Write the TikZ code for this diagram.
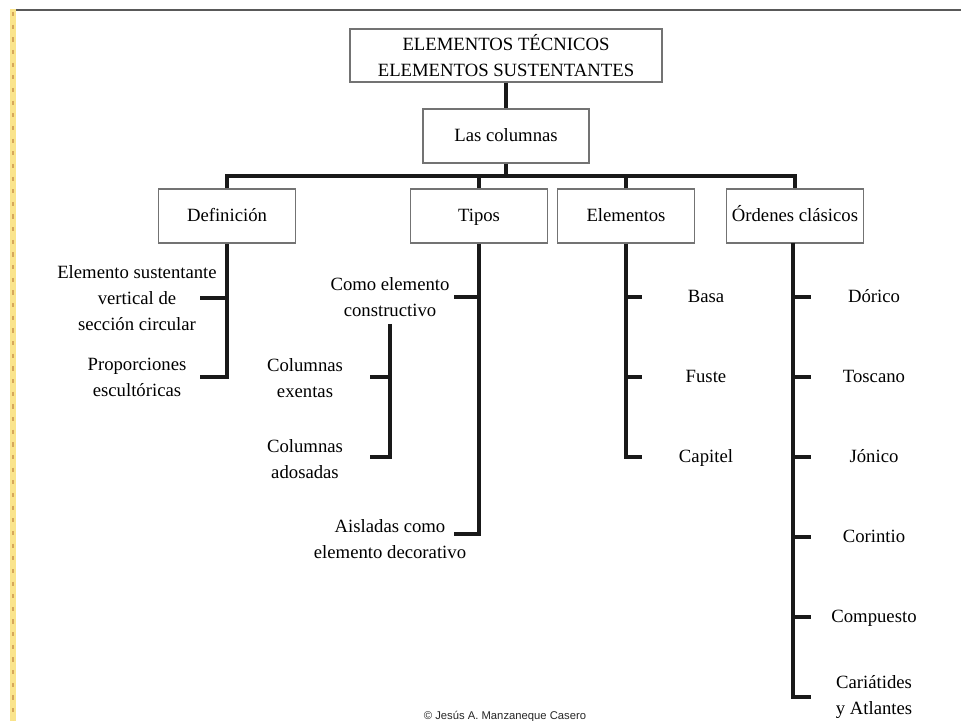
\documentclass[tikz,border=0pt]{standalone}
\usepackage{fontspec}
\setmainfont{Liberation Serif}
\newfontfamily\footfont{Liberation Sans}
\usetikzlibrary{calc}
\definecolor{stripe}{RGB}{250,228,140}
\definecolor{speck}{RGB}{214,168,92}
\tikzstyle{box}=[rectangle, draw=black!55, line width=0.9pt, fill=white, minimum width=3.425cm, minimum height=1.35cm, inner sep=0pt, anchor=center, align=center, font=\fontsize{13.3}{18.4}\selectfont]
\tikzstyle{oneline}=[text height=10pt, text depth=2pt]
\tikzstyle{annot}=[align=center, inner sep=1pt, font=\fontsize{13.3}{18.4}\selectfont]
\tikzstyle{conn}=[line width=2.5pt, black!90]

\begin{document}
\begin{tikzpicture}[x=0.025cm, y=-0.025cm]
	\useasboundingbox (0,0) rectangle (961,721);
	% page edge
	\fill[stripe] (10,9) rectangle (16,721);
	\draw[speck, line width=1.5pt, dash pattern=on 3pt off 6pt] (13,12) -- (13,721);
	\draw[black!65, line width=1.2pt] (16,10) -- (961,10);

	\node[box, minimum width=7.8cm, minimum height=1.325cm](title) at (506,55.5){ELEMENTOS TÉCNICOS\\ELEMENTOS SUSTENTANTES};
	\node[box, oneline, minimum width=4.15cm](cols) at (506,136){Las columnas};
	\coordinate (bar) at (506,176);

	\node[box, oneline](def) at (227,216){Definición};
	\node[box, oneline](tip) at (479,216){Tipos};
	\node[box, oneline](ele) at (626,216){Elementos};
	\node[box, oneline](ord) at (795,216){Órdenes clásicos};

	\draw[conn] (title.south) -- (cols.north);
	\draw[conn] (cols.south) -- (cols.south |- bar);
	\draw[conn] (def.north) -- (def.north |- bar) -- (ord.north |- bar) -- (ord.north);
	\draw[conn] (tip.north) -- (tip.north |- bar);
	\draw[conn] (ele.north) -- (ele.north |- bar);

	% Definicion
	\node[annot](def1) at (137,298){Elemento sustentante\\vertical de\\sección circular};
	\node[annot](def2) at (137,377){Proporciones\\escultóricas};
	\draw[conn] (def.south) -- (def.south |- def2) -- ++(-27,0);
	\draw[conn] (def.south |- def1) -- ++(-27,0);

	% Tipos
	\node[annot](tip1) at (390,297){Como elemento\\constructivo};
	\node[annot](tip2) at (390,539){Aisladas como\\elemento decorativo};
	\draw[conn] (tip.south) -- (tip.south |- 0,534) -- ++(-25,0);
	\draw[conn] (tip.south |- 0,297) -- ++(-25,0);
	\node[annot](tip11) at (305,378){Columnas\\exentas};
	\node[annot](tip12) at (305,459){Columnas\\adosadas};
	\coordinate (sub) at (390,324);
	\draw[conn] (sub) -- (sub |- 0,457) -- ++(-20,0);
	\draw[conn] (sub |- 0,377) -- ++(-20,0);

	% Elementos
	\foreach \name/\txt/\y in {ele1/Basa/297, ele2/Fuste/377, ele3/Capitel/457}{
		\node[annot, oneline](\name) at (706,\y){\txt};
	}
	\draw[conn] (ele.south) -- (ele.south |- ele3) -- ++(16,0);
	\foreach \name in {ele1,ele2}
		\draw[conn] (ele.south |- \name) -- ++(16,0);

	% Ordenes
	\foreach \name/\txt/\y in {ord1/Dórico/297, ord2/Toscano/377, ord3/Jónico/457, ord4/Corintio/537, ord5/Compuesto/617}{
		\node[annot, oneline](\name) at (874,\y){\txt};
	}
	\node[annot](ord6) at (874,697){Cariátides\\y Atlantes};
	\coordinate (ordx) at (793,243);
	\draw[conn] (ordx) -- (ordx |- ord6) -- ++(18,0);
	\foreach \name in {ord1,ord2,ord3,ord4,ord5}
		\draw[conn] (ordx |- \name) -- ++(18,0);

	\node[font=\footfont\fontsize{8}{9}\selectfont, text=black!85](foot) at (505,717){© Jesús A. Manzaneque Casero};
\end{tikzpicture}
\end{document}
